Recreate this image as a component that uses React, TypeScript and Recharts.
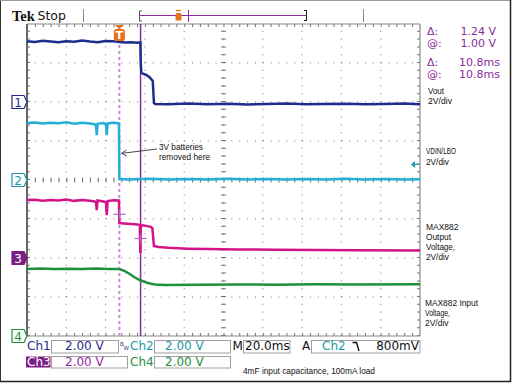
import React from 'react';
import { LineChart, Line, XAxis, YAxis, ReferenceLine, ReferenceDot } from 'recharts';

// Scope capture: 20 ms/div, 2 V/div, time in ms relative to trigger
const T_MIN = -47;
const T_MAX = 153;
const MS_PER_DIV = 20;
const VOLTS_PER_DIV = 2;

// Ch1 - Vout
const voutTime = [-47, -43, -39, -35, -31, -27, -23, -19, -15, -11, -7, -3, 0, 3, 6, 9, 10.7, 10.9, 11.2, 12, 13.5, 15.5, 17, 17.6, 18.2, 25, 35, 45, 55, 65, 75, 85, 95, 105, 115, 125, 135, 145, 153];
const vout = [3.12, 3.08, 3.14, 3.1, 3.06, 3.12, 3.09, 3.15, 3.1, 3.07, 3.13, 3.11, 3.08, 3.05, 3.07, 3.04, 3.06, 2.0, 1.5, 1.45, 1.4, 1.26, 1.08, -0.05, -0.1, -0.12, -0.08, -0.11, -0.09, -0.13, -0.1, -0.08, -0.12, -0.1, -0.09, -0.12, -0.1, -0.08, -0.11];

// Ch2 - VDIN/LBO
const vdinTime = [-47, -43, -39, -35, -31, -27, -23, -19, -15, -12.5, -11.9, -11.5, -11.1, -8, -6.8, -6.4, -6.0, -3, -0.2, 0, 5, 15, 25, 35, 45, 55, 65, 75, 85, 95, 105, 115, 125, 135, 145, 153];
const vdin = [2.92, 2.95, 2.9, 2.94, 2.91, 2.96, 2.89, 2.93, 2.9, 2.86, 2.8, 2.3, 2.88, 2.92, 2.85, 2.3, 2.9, 2.93, 2.9, 0.05, 0.02, 0.06, 0.03, 0.05, 0.02, 0.06, 0.03, 0.05, 0.02, 0.05, 0.03, 0.06, 0.03, 0.05, 0.02, 0.04];

// Ch3 - MAX882 output voltage
const outTime = [-47, -43, -39, -35, -31, -27, -23, -19, -15, -12.5, -11.9, -11.5, -11.1, -8, -6.8, -6.4, -6.0, -3, -0.2, 0, 4, 8, 10.4, 10.7, 10.9, 13, 16, 16.8, 17.6, 20, 25, 35, 45, 60, 80, 100, 120, 153];
const outV = [2.97, 2.99, 2.94, 2.98, 2.95, 3.0, 2.93, 2.97, 2.94, 2.9, 2.85, 2.46, 2.95, 2.9, 2.86, 2.2, 2.92, 2.96, 2.95, 1.79, 1.76, 1.73, 1.7, 0.26, 1.68, 1.66, 1.6, 1.52, 0.62, 0.56, 0.52, 0.48, 0.46, 0.44, 0.42, 0.41, 0.4, 0.39];

// Ch4 - MAX882 input voltage
const inTime = [-47, -40, -33, -26, -19, -12, -5, 0, 2.8, 5.3, 7.9, 10.4, 13, 15.5, 18, 23, 40, 60, 80, 100, 120, 153];
const inV = [3.44, 3.46, 3.43, 3.45, 3.44, 3.46, 3.44, 3.43, 3.33, 3.18, 3.0, 2.87, 2.77, 2.69, 2.64, 2.62, 2.63, 2.64, 2.63, 2.65, 2.64, 2.65];

// cursors / trigger
const cursorTimes = [0, 10.8];
const cursorVolts = [2.24, 1.0];
const triggerLevel = 0.8;

const GROUND = { ch1: 6, ch2: 4, ch3: 2, ch4: 0 };

const C1 = '#1f2c8f';
const C2 = '#22aed6';
const C2TXT = '#1a98a8';
const C3 = '#d4138a';
const C4 = '#1f9040';
const PURPLE = '#8c2a9c';
const GRID = '#747474';

const toPoints = (ts: number[], vs: number[], g: number) =>
  ts.map((t, i) => ({ t, v: g + vs[i] / VOLTS_PER_DIV }));

const minorX = `1 ${(393 / 50 - 1).toFixed(2)}`;
const minorY = `1 ${(312 / 40 - 1).toFixed(2)}`;
const majorX = [1, 2, 3, 4, 6, 7, 8, 9].map(k => T_MIN + k * MS_PER_DIV);
const majorY = [1, 2, 3, 5, 6, 7];
const centerX = T_MIN + 5 * MS_PER_DIV;
const pxX = MS_PER_DIV / 39.3;
const pxY = 1 / 39;

function ChannelMarker(props: any) {
  const { cx, cy, label, color, filled } = props;
  const pts = `${cx - 15},${cy - 6.5} ${cx - 3},${cy - 6.5} ${cx},${cy} ${cx - 3},${cy + 6.5} ${cx - 15},${cy + 6.5}`;
  return (
    <g>
      <polygon points={pts} fill={filled ? color : '#fff'} stroke={color} strokeWidth={1.2} />
      <text x={cx - 9} y={cy + 4.5} textAnchor="middle" fontSize={12} fontFamily="DejaVu Sans" fill={filled ? '#fff' : color}>
        {label}
      </text>
    </g>
  );
}

function TriggerMarker(props: any) {
  const { cx, cy } = props;
  return (
    <g>
      <polygon points={`${cx - 4.5},${cy + 1} ${cx + 4.5},${cy + 1} ${cx},${cy + 5}`} fill="#e8701a" />
      <rect x={cx - 5.5} y={cy + 5} width={11} height={12} rx={2.5} fill="#e8701a" />
      <text x={cx} y={cy + 15} textAnchor="middle" fontSize={11} fontWeight="bold" fontFamily="DejaVu Sans" fill="#fff">T</text>
    </g>
  );
}

function LevelArrow(props: any) {
  const { cx, cy } = props;
  return (
    <g>
      <line x1={cx - 6} y1={cy} x2={cx - 1} y2={cy} stroke={C2TXT} strokeWidth={1.2} />
      <polygon points={`${cx - 9},${cy} ${cx - 5},${cy - 3.5} ${cx - 5},${cy + 3.5}`} fill={C2TXT} />
    </g>
  );
}

function Cross(props: any) {
  const { cx, cy } = props;
  return (
    <g stroke="#b264c4" strokeWidth={1.2}>
      <line x1={cx - 6} y1={cy} x2={cx + 6} y2={cy} />
      <line x1={cx} y1={cy - 5} x2={cx} y2={cy + 5} />
    </g>
  );
}

const label = { fontFamily: 'Liberation Sans', fontSize: 9.5, fill: '#111' } as const;
const tek = { fontFamily: 'DejaVu Sans', fontSize: 12 } as const;
const readout = { fontFamily: 'DejaVu Sans', fontSize: 11, fill: PURPLE } as const;

function Overlay() {
  const n = (txt: string, x: number, y: number, len: number) => (
    <text x={x} y={y} {...label} textLength={len} lengthAdjust="spacingAndGlyphs">{txt}</text>
  );
  return (
    <svg width={512} height={384} style={{ position: 'absolute', left: 0, top: 0, pointerEvents: 'none' }}>
      {/* frame */}
      <line x1={0.5} y1={0.5} x2={511} y2={0.5} stroke="#999" />
      <line x1={0.5} y1={0.5} x2={0.5} y2={382} stroke="#333" />
      <line x1={510.5} y1={0} x2={510.5} y2={382} stroke="#222" strokeWidth={1.5} />
      <line x1={0} y1={381.5} x2={511} y2={381.5} stroke="#222" strokeWidth={1.5} />

      {/* header */}
      <text x={12} y={20.5} fontFamily="Liberation Serif" fontWeight="bold" fontSize={14.5} fill="#111">Tek</text>
      <text x={37.5} y={20} fontFamily="DejaVu Sans" fontSize={12.5} fill="#111">Stop</text>
      <line x1={83.5} y1={9} x2={83.5} y2={22} stroke="#888" />
      <line x1={140} y1={15.5} x2={307} y2={15.5} stroke={PURPLE} />
      <line x1={139.5} y1={11} x2={139.5} y2={21} stroke="#555" />
      <line x1={139.5} y1={11} x2={142} y2={11} stroke="#555" />
      <line x1={139.5} y1={21} x2={142} y2={21} stroke="#555" />
      <line x1={306.5} y1={10} x2={306.5} y2={21} stroke="#222" />
      <line x1={304} y1={10.5} x2={306.5} y2={10.5} stroke="#222" />
      <line x1={304} y1={20.5} x2={306.5} y2={20.5} stroke="#222" />
      <line x1={188.5} y1={10} x2={188.5} y2={22} stroke={PURPLE} />
      <rect x={175.5} y={13} width={6} height={7.5} rx={1.5} fill="#e8701a" />
      <line x1={176} y1={10.5} x2={181} y2={10.5} stroke="#e8701a" strokeWidth={1.3} />
      <line x1={363.5} y1={9} x2={363.5} y2={22} stroke="#888" />

      {/* cursor readouts */}
      <text x={427} y={35} {...readout}>Δ:</text>
      <text x={496} y={35} {...readout} textAnchor="end">1.24 V</text>
      <text x={427} y={47} {...readout}>@:</text>
      <text x={496} y={47} {...readout} textAnchor="end">1.00 V</text>
      <text x={427} y={66} {...readout}>Δ:</text>
      <text x={500} y={66} {...readout} textAnchor="end">10.8ms</text>
      <text x={427} y={78} {...readout}>@:</text>
      <text x={500} y={78} {...readout} textAnchor="end">10.8ms</text>

      {/* channel labels */}
      {n('Vout', 428, 94, 16)}
      {n('2V/div', 428, 104, 24)}
      {n('VDIN/LBO', 426, 153.5, 30)}
      {n('2V/div', 426, 165, 23)}
      {n('MAX882', 426, 230, 32.5)}
      {n('Output', 426, 240, 25)}
      {n('Voltage,', 426, 249.5, 29)}
      {n('2V/div', 426, 260, 23)}
      {n('MAX882 Input', 425, 306, 53)}
      {n('Voltage,', 425, 316, 25)}
      {n('2V/div', 425, 326, 23.5)}

      {/* annotation */}
      {n('3V batteries', 159, 149.5, 44)}
      {n('removed here', 159, 159.5, 51)}
      <line x1={157} y1={149} x2={122} y2={153.3} stroke="#333" strokeWidth={0.9} />
      <polyline points="126.5,150 121.5,153.3 127,156" fill="none" stroke="#333" strokeWidth={0.9} />

      {/* bottom readouts */}
      <g fill="none" stroke="#a0a0a0">
        <rect x={51.5} y={340.5} width={67} height={12.5} />
        <rect x={154.5} y={340.5} width={76} height={12.5} />
        <rect x={243.5} y={340.5} width={46.5} height={12.5} />
        <rect x={311.5} y={340.5} width={108.5} height={12.5} />
        <rect x={51.5} y={356.5} width={76} height={11.5} />
        <rect x={154.5} y={356.5} width={76} height={11.5} />
      </g>
      <text x={27} y={350} {...tek} fill={C1}>Ch1</text>
      <text x={65} y={350} {...tek} fill={C1}>2.00 V</text>
      <text x={120} y={345.5} fontFamily="DejaVu Sans" fontSize={5.5} fill={C1}>B</text>
      <text x={123.5} y={350} fontFamily="DejaVu Sans" fontSize={5.5} fill={C1}>W</text>
      <text x={130} y={350} {...tek} fill={C2TXT}>Ch2</text>
      <text x={165} y={350} {...tek} fill={C2TXT}>2.00 V</text>
      <text x={232.5} y={350} {...tek} fill="#111">M</text>
      <text x={245} y={350} {...tek} fill="#111">20.0ms</text>
      <text x={302} y={350} {...tek} fill="#111">A</text>
      <text x={322} y={350} {...tek} fill={C2TXT}>Ch2</text>
      <polyline points="352.5,342.5 356.5,342.5 359,351" fill="none" stroke="#111" strokeWidth={1.4} />
      <text x={419} y={350} {...tek} fill="#111" textAnchor="end">800mV</text>
      <rect x={26} y={356.5} width={24.5} height={11} fill="#7b1e86" />
      <text x={27} y={366} {...tek} fill="#fff">Ch3</text>
      <text x={65} y={366} {...tek} fill={PURPLE}>2.00 V</text>
      <text x={130} y={366} {...tek} fill={C4}>Ch4</text>
      <text x={165} y={366} {...tek} fill={C4}>2.00 V</text>
      {n('4mF input capacitance, 100mA load', 243, 373.5, 132)}
    </svg>
  );
}

export default function App() {
  const ch1 = toPoints(voutTime, vout, GROUND.ch1);
  const ch2 = toPoints(vdinTime, vdin, GROUND.ch2);
  const ch3 = toPoints(outTime, outV, GROUND.ch3);
  const ch4 = toPoints(inTime, inV, GROUND.ch4);

  return (
    <div style={{ position: 'absolute', left: 0, top: 0, width: 512, height: 384, background: '#fff' }}>
      <LineChart width={512} height={384} margin={{ top: 24, right: 92, bottom: 48, left: 27 }}>
        <XAxis type="number" dataKey="t" domain={[T_MIN, T_MAX]} allowDataOverflow hide />
        <YAxis type="number" domain={[0, 8]} allowDataOverflow hide />

        {majorX.map(x => (
          <ReferenceLine key={'gx' + x} x={x} stroke={GRID} strokeDasharray={minorY} />
        ))}
        {majorY.map(y => (
          <ReferenceLine key={'gy' + y} y={y} stroke={GRID} strokeDasharray={minorX} />
        ))}
        {/* center graticule with ticks */}
        <ReferenceLine x={centerX} stroke={GRID} strokeDasharray={minorY} />
        <ReferenceLine x={centerX} stroke={GRID} strokeWidth={5} strokeDasharray={minorY} />
        <ReferenceLine y={4} stroke={GRID} strokeDasharray={minorX} />
        <ReferenceLine y={4} stroke={GRID} strokeWidth={5} strokeDasharray={minorX} />
        {/* edge rulers */}
        <ReferenceLine y={8 - 1.5 * pxY} stroke={GRID} strokeWidth={3} strokeDasharray={minorX} />
        <ReferenceLine y={1.5 * pxY} stroke={GRID} strokeWidth={3} strokeDasharray={minorX} />
        <ReferenceLine x={T_MIN + 1.5 * pxX} stroke={GRID} strokeWidth={3} strokeDasharray={minorY} />
        <ReferenceLine x={T_MAX - 1.5 * pxX} stroke={GRID} strokeWidth={3} strokeDasharray={minorY} />
        <ReferenceLine y={8} stroke="#888" strokeWidth={1.2} />
        <ReferenceLine y={0} stroke="#888" strokeWidth={1.2} />
        <ReferenceLine x={T_MIN} stroke="#666" strokeWidth={2} />
        <ReferenceLine x={T_MAX} stroke="#888" strokeWidth={1.2} />

        <ReferenceLine x={cursorTimes[0]} stroke="#c98ad4" strokeWidth={2} strokeDasharray="3 3" />
        <ReferenceLine x={cursorTimes[1]} stroke={PURPLE} strokeWidth={1.5} />

        <Line data={ch4} dataKey="v" type="linear" stroke={C4} strokeWidth={2.5} dot={false} activeDot={false} isAnimationActive={false} />
        <Line data={ch3} dataKey="v" type="linear" stroke={C3} strokeWidth={2.5} dot={false} activeDot={false} isAnimationActive={false} />
        <Line data={ch2} dataKey="v" type="linear" stroke={C2} strokeWidth={2.5} dot={false} activeDot={false} isAnimationActive={false} />
        <Line data={ch1} dataKey="v" type="linear" stroke={C1} strokeWidth={2.5} dot={false} activeDot={false} isAnimationActive={false} />

        {cursorTimes.map((t, i) => (
          <ReferenceDot key={'c' + i} x={t} y={GROUND.ch3 + cursorVolts[i] / VOLTS_PER_DIV} r={0} ifOverflow="visible" shape={(p: any) => <Cross {...p} />} />
        ))}
        <ReferenceDot x={0} y={8} r={0} ifOverflow="visible" shape={(p: any) => <TriggerMarker {...p} />} />
        <ReferenceDot x={T_MAX} y={GROUND.ch2 + triggerLevel / VOLTS_PER_DIV} r={0} ifOverflow="visible" shape={(p: any) => <LevelArrow {...p} />} />
        <ReferenceDot x={T_MIN} y={GROUND.ch1} r={0} ifOverflow="visible" shape={(p: any) => <ChannelMarker {...p} label="1" color={C1} />} />
        <ReferenceDot x={T_MIN} y={GROUND.ch2} r={0} ifOverflow="visible" shape={(p: any) => <ChannelMarker {...p} label="2" color={C2TXT} />} />
        <ReferenceDot x={T_MIN} y={GROUND.ch3} r={0} ifOverflow="visible" shape={(p: any) => <ChannelMarker {...p} label="3" color="#7b1e86" filled />} />
        <ReferenceDot x={T_MIN} y={GROUND.ch4} r={0} ifOverflow="visible" shape={(p: any) => <ChannelMarker {...p} label="4" color={C4} />} />
      </LineChart>
      <Overlay />
    </div>
  );
}
